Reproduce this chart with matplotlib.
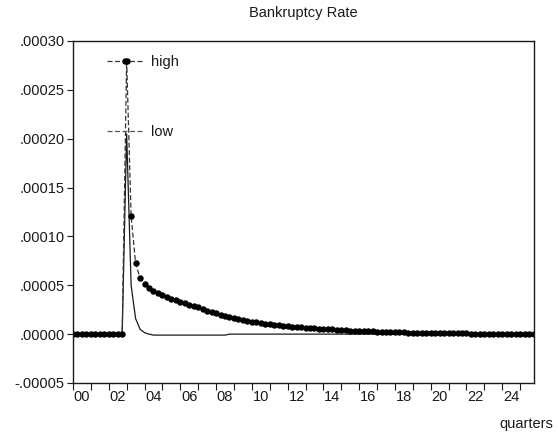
import numpy as np
import matplotlib
matplotlib.use("Agg")
import matplotlib.pyplot as plt
from matplotlib.lines import Line2D
from matplotlib.ticker import FixedLocator, FuncFormatter

plt.rcParams['font.family'] = ['Liberation Sans', 'DejaVu Sans']

# ── data (values in units of 1e-5, one point per quarter) ──
high_e5 = [0.0] * 12 + [
    28.0, 12.1, 7.25, 5.75, 5.10, 4.72, 4.45, 4.20, 3.98, 3.80,
    3.62, 3.46, 3.31, 3.16, 3.02, 2.88, 2.74, 2.57, 2.41, 2.26,
    2.12, 1.99, 1.86, 1.75, 1.64, 1.53, 1.44, 1.35, 1.26, 1.19,
    1.13, 1.07, 1.02, 0.96, 0.91, 0.87, 0.82, 0.78, 0.74, 0.70,
    0.66, 0.63, 0.60, 0.56, 0.54, 0.51, 0.48, 0.45, 0.42, 0.39,
    0.37, 0.35, 0.32, 0.30, 0.28, 0.27, 0.25, 0.23, 0.22, 0.21,
    0.19, 0.18, 0.17, 0.16, 0.15, 0.14, 0.13, 0.12, 0.11, 0.11,
    0.10, 0.09, 0.09, 0.08, 0.08, 0.07, 0.07, 0.06, 0.06, 0.05,
    0.05, 0.05, 0.04, 0.04, 0.04, 0.03, 0.03, 0.03, 0.03, 0.03,
    0.02, 0.02]
low_e5 = [0.0] * 12 + [
    20.5, 5.0, 1.6, 0.5, 0.15, 0.0] + [-0.1] * 17 + [0.0] * 69

series_labels = ["high", "low"]
year_labels = ["00", "02", "04", "06", "08", "10", "12",
               "14", "16", "18", "20", "22", "24"]
y_ticks = [-0.00005, 0.0, 0.00005, 0.0001, 0.00015, 0.0002, 0.00025, 0.0003]

high = np.array(high_e5) * 1e-5
low = np.array(low_e5) * 1e-5
q = np.arange(len(high))

INK = '#1a1a1a'

fig = plt.figure(figsize=(5.58, 4.36), dpi=100)
ax = fig.add_axes([0.1308, 0.1216, 0.8262, 0.7844])

ax.plot(q, low, color=INK, lw=0.9, solid_joinstyle='round')
ax.plot(q, high, color='#333333', lw=0.9, ls=(0, (4, 2)),
        marker='o', ms=3.6, mfc='black', mec='black')

ax.set_xlim(0, 103.1)
ax.set_ylim(-0.00005, 0.0003)

# y axis
ax.set_yticks(y_ticks)
ax.yaxis.set_major_formatter(FuncFormatter(
    lambda v, p: ('-' if v < -1e-12 else '') + f"{abs(v):.5f}".lstrip('0')))
ax.tick_params(axis='y', direction='out', length=4, width=0.8,
               labelsize=10.5, colors=INK, pad=2)

# x axis: ticks at year starts, labels mid-year every 2 years
ax.xaxis.set_major_locator(FixedLocator(np.arange(0, 101, 4)))
ax.xaxis.set_minor_locator(FixedLocator(np.arange(2, 100, 8)))
ax.xaxis.set_major_formatter(FuncFormatter(lambda v, p: ''))
ax.xaxis.set_minor_formatter(FuncFormatter(
    lambda v, p: year_labels[int((v - 2) // 8)]))
ax.tick_params(axis='x', which='major', direction='out', length=5,
               width=0.8, colors=INK)
ax.tick_params(axis='x', which='minor', length=0, labelsize=10.5,
               colors=INK, pad=5)

for s in ax.spines.values():
    s.set_linewidth(1.0)
    s.set_color(INK)

ax.set_title("Bankruptcy Rate", fontsize=10.5, color=INK, pad=17)
fig.text(0.992, 0.012, "quarters", ha='right', va='bottom',
         fontsize=10.5, color=INK)

handles = [
    Line2D([], [], color='#333333', lw=0.9, ls=(0, (4, 2)),
           marker='o', ms=3.6, mfc='black', mec='black'),
    Line2D([], [], color='#555555', lw=0.9, ls=(0, (4, 2))),
]
leg = ax.legend(handles, series_labels, loc='upper left',
                bbox_to_anchor=(0.062, 0.975), frameon=False,
                fontsize=10.5, handlelength=2.4, handletextpad=0.6,
                labelspacing=3.8, borderaxespad=0)
for t in leg.get_texts():
    t.set_color(INK)

fig.savefig("out.png", dpi=100)
